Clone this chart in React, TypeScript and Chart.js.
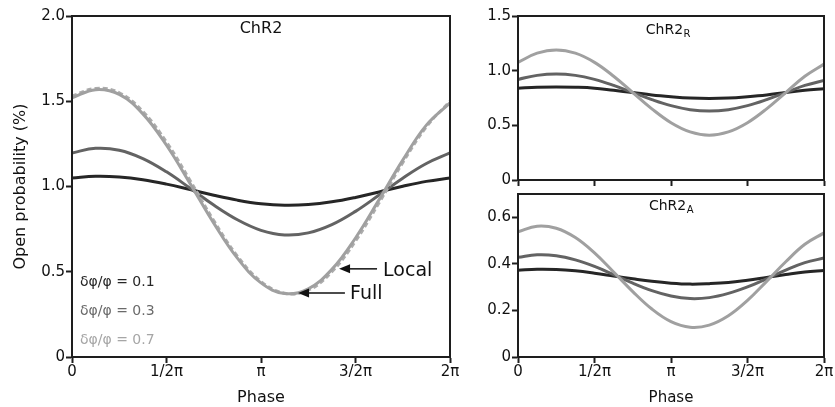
import React, { useEffect, useRef } from "react";
import { Chart, registerables } from "chart.js";
Chart.register(...registerables);

// ---------- data ----------
const PHASE = [0, 0.125, 0.25, 0.375, 0.5, 0.625, 0.75, 0.875, 1, 1.125, 1.25, 1.375, 1.5, 1.625, 1.75, 1.875, 2];
const PHASE_LABELS = ["0", "1/2π", "π", "3/2π", "2π"];
const LEGEND_LABELS = ["δφ/φ = 0.1", "δφ/φ = 0.3", "δφ/φ = 0.7"];

const CHR2_D01 = [1.05, 1.06, 1.056, 1.04, 1.014, 0.982, 0.949, 0.92, 0.899, 0.89, 0.894, 0.91, 0.936, 0.968, 1.001, 1.03, 1.05];
const CHR2_D03 = [1.197, 1.224, 1.213, 1.164, 1.086, 0.99, 0.891, 0.805, 0.743, 0.716, 0.728, 0.776, 0.854, 0.95, 1.049, 1.135, 1.197];
const CHR2_D07 = [1.52, 1.568, 1.54, 1.426, 1.242, 1.017, 0.785, 0.58, 0.435, 0.372, 0.4, 0.514, 0.698, 0.923, 1.155, 1.36, 1.49];
const CHR2_D07_LOCAL = [1.53, 1.575, 1.55, 1.44, 1.26, 1.035, 0.8, 0.592, 0.443, 0.374, 0.392, 0.5, 0.68, 0.905, 1.14, 1.35, 1.5];

const CHR2R_D01 = [0.84, 0.848, 0.85, 0.848, 0.84, 0.82, 0.8, 0.778, 0.762, 0.75, 0.746, 0.75, 0.762, 0.778, 0.8, 0.82, 0.835];
const CHR2R_D03 = [0.92, 0.957, 0.97, 0.957, 0.92, 0.865, 0.8, 0.735, 0.68, 0.643, 0.63, 0.643, 0.68, 0.735, 0.8, 0.865, 0.91];
const CHR2R_D07 = [1.076, 1.16, 1.19, 1.16, 1.076, 0.949, 0.8, 0.651, 0.524, 0.44, 0.41, 0.44, 0.524, 0.651, 0.8, 0.949, 1.06];

const CHR2A_D01 = [0.373, 0.377, 0.376, 0.37, 0.36, 0.348, 0.336, 0.325, 0.317, 0.313, 0.315, 0.32, 0.33, 0.342, 0.354, 0.365, 0.372];
const CHR2A_D03 = [0.428, 0.439, 0.435, 0.417, 0.389, 0.354, 0.317, 0.285, 0.262, 0.251, 0.255, 0.273, 0.301, 0.336, 0.373, 0.405, 0.425];
const CHR2A_D07 = [0.538, 0.562, 0.553, 0.513, 0.447, 0.365, 0.281, 0.206, 0.152, 0.128, 0.137, 0.177, 0.243, 0.325, 0.409, 0.484, 0.533];

// ---------- styles ----------
const FONT = "'DejaVu Sans', 'Liberation Sans', Arial, sans-serif";
const AXIS = "#1e1e1e";
const C_DARK = "#262626";
const C_MID = "#636363";
const C_LIGHT = "#a0a0a0";
const C_LOCAL = "#acacac";
const T_DARK = "#262626";
const T_MID = "#6a6a6a";
const T_LIGHT = "#a6a6a6";

type Series = { values: number[]; color: string; dash?: number[] };

const framePlugin = {
  id: "frame",
  afterDraw(chart: any) {
    const { ctx, chartArea } = chart;
    ctx.save();
    ctx.strokeStyle = AXIS;
    ctx.lineWidth = 2;
    ctx.strokeRect(chartArea.left, chartArea.top, chartArea.right - chartArea.left, chartArea.bottom - chartArea.top);
    ctx.restore();
  },
};

function drawLabel(ctx: any, x: number, y: number, main: string, sub: string, size: number) {
  ctx.save();
  ctx.fillStyle = "#111";
  ctx.textBaseline = "middle";
  ctx.font = `${size}px ${FONT}`;
  const w1 = ctx.measureText(main).width;
  ctx.font = `${Math.round(size * 0.7)}px ${FONT}`;
  const w2 = sub ? ctx.measureText(sub).width : 0;
  const start = x - (w1 + w2) / 2;
  ctx.textAlign = "left";
  ctx.font = `${size}px ${FONT}`;
  ctx.fillText(main, start, y);
  if (sub) {
    ctx.font = `${Math.round(size * 0.7)}px ${FONT}`;
    ctx.fillText(sub, start + w1 + 0.5, y + size * 0.3);
  }
  ctx.restore();
}

function arrow(ctx: any, x0: number, x1: number, y: number) {
  ctx.save();
  ctx.strokeStyle = "#111";
  ctx.fillStyle = "#111";
  ctx.lineWidth = 1.5;
  ctx.beginPath();
  ctx.moveTo(x0, y);
  ctx.lineTo(x1 + 8, y);
  ctx.stroke();
  ctx.beginPath();
  ctx.moveTo(x1, y);
  ctx.lineTo(x1 + 11, y - 4.5);
  ctx.lineTo(x1 + 11, y + 4.5);
  ctx.closePath();
  ctx.fill();
  ctx.restore();
}

const mainAnnot = {
  id: "mainAnnot",
  afterDraw(chart: any) {
    const { ctx } = chart;
    const xs = chart.scales.x;
    const ys = chart.scales.y;
    const px = (v: number) => xs.getPixelForValue(v);
    const py = (v: number) => ys.getPixelForValue(v);
    drawLabel(ctx, px(1), py(1.922), "ChR2", "", 16);
    const colors = [T_DARK, T_MID, T_LIGHT];
    const ly = [0.435, 0.265, 0.1];
    ctx.save();
    ctx.font = `14px ${FONT}`;
    ctx.textAlign = "left";
    ctx.textBaseline = "middle";
    LEGEND_LABELS.forEach((t, i) => {
      ctx.fillStyle = colors[i];
      ctx.fillText(t, px(0.042), py(ly[i]));
    });
    ctx.restore();
    arrow(ctx, px(1.614), px(1.413), py(0.517));
    arrow(ctx, px(1.444), px(1.196), py(0.376));
    ctx.save();
    ctx.font = `19px ${FONT}`;
    ctx.fillStyle = "#111";
    ctx.textAlign = "left";
    ctx.textBaseline = "middle";
    ctx.fillText("Local", px(1.646), py(0.505));
    ctx.fillText("Full", px(1.471), py(0.367));
    ctx.restore();
  },
};

function makeLabelPlugin(main: string, sub: string, xv: number, yv: number) {
  return {
    id: "lbl" + sub,
    afterDraw(chart: any) {
      const xs = chart.scales.x;
      const ys = chart.scales.y;
      drawLabel(chart.ctx, xs.getPixelForValue(xv), ys.getPixelForValue(yv), main, sub, 14);
    },
  };
}

function makeConfig(o: {
  series: Series[];
  yMax: number;
  yStep: number;
  padding: any;
  yWidth: number;
  xHeight: number;
  showXLabels: boolean;
  yTitle?: string;
  xTitle?: string;
  xTitleSize: number;
  tickSize: number;
  yTitlePad?: number;
  xTitlePad?: number;
  extra: any[];
}) {
  return {
    type: "line",
    data: {
      datasets: o.series.map((s) => ({
        data: PHASE.map((x, i) => ({ x, y: s.values[i] })),
        borderColor: s.color,
        borderWidth: 3,
        borderDash: s.dash || [],
        pointRadius: 0,
        tension: 0.4,
        fill: false,
      })),
    },
    options: {
      animation: false,
      responsive: false,
      maintainAspectRatio: false,
      layout: { padding: o.padding },
      plugins: { legend: { display: false }, tooltip: { enabled: false } },
      scales: {
        x: {
          type: "linear",
          min: 0,
          max: 2,
          afterFit: (s: any) => {
            s.height = o.xHeight;
            s.paddingLeft = 0;
            s.paddingRight = 0;
          },
          ticks: {
            stepSize: 0.5,
            autoSkip: false,
            maxRotation: 0,
            padding: 0,
            color: "#111",
            font: { family: FONT, size: o.tickSize },
            callback: (v: number) => (o.showXLabels ? PHASE_LABELS[Math.round(v * 2)] : ""),
          },
          grid: { drawOnChartArea: false, drawTicks: true, tickLength: 6, tickWidth: 2, tickColor: AXIS },
          border: { color: AXIS, width: 2 },
          title: o.xTitle
            ? { display: true, text: o.xTitle, color: "#111", font: { family: FONT, size: o.xTitleSize }, padding: { top: o.xTitlePad || 0, bottom: 0 } }
            : { display: false },
        },
        y: {
          type: "linear",
          min: 0,
          max: o.yMax,
          afterFit: (s: any) => {
            s.width = o.yWidth;
            s.paddingTop = 0;
            s.paddingBottom = 0;
          },
          ticks: {
            stepSize: o.yStep,
            includeBounds: false,
            padding: 1,
            color: "#111",
            font: { family: FONT, size: o.tickSize },
            callback: (v: number) => (Math.abs(v) < 1e-9 ? "0" : Number(v).toFixed(1)),
          },
          grid: { drawOnChartArea: false, drawTicks: true, tickLength: 6, tickWidth: 2, tickColor: AXIS },
          border: { color: AXIS, width: 2 },
          title: o.yTitle
            ? { display: true, text: o.yTitle, color: "#111", font: { family: FONT, size: 16 }, padding: { top: o.yTitlePad || 0, bottom: 0 } }
            : { display: false },
        },
      },
    },
    plugins: [framePlugin, ...o.extra],
  };
}

function ChartBox(props: { left: number; top: number; width: number; height: number; config: any }) {
  const ref = useRef<HTMLCanvasElement | null>(null);
  useEffect(() => {
    if (!ref.current) return;
    const chart = new Chart(ref.current, props.config);
    return () => chart.destroy();
  }, []);
  return (
    <canvas
      ref={ref}
      width={props.width}
      height={props.height}
      style={{ position: "absolute", left: props.left, top: props.top, width: props.width, height: props.height, display: "block" }}
    />
  );
}

export default function App() {
  useEffect(() => {
    document.body.style.margin = "0";
    document.body.style.background = "#fff";
  }, []);

  const mainCfg = makeConfig({
    series: [
      { values: CHR2_D07, color: C_LIGHT },
      { values: CHR2_D07_LOCAL, color: C_LOCAL, dash: [5, 3] },
      { values: CHR2_D03, color: C_MID },
      { values: CHR2_D01, color: C_DARK },
    ],
    yMax: 2,
    yStep: 0.5,
    padding: { top: 16, right: 20, left: 0, bottom: 0 },
    yWidth: 72,
    xHeight: 50,
    showXLabels: true,
    yTitle: "Open probability (%)",
    xTitle: "Phase",
    xTitleSize: 16,
    tickSize: 15,
    yTitlePad: 11,
    xTitlePad: 1,
    extra: [mainAnnot],
  });

  const rCfg = makeConfig({
    series: [
      { values: CHR2R_D07, color: C_LIGHT },
      { values: CHR2R_D03, color: C_MID },
      { values: CHR2R_D01, color: C_DARK },
    ],
    yMax: 1.5,
    yStep: 0.5,
    padding: { top: 16, right: 11, left: 0, bottom: 0 },
    yWidth: 48,
    xHeight: 10,
    showXLabels: false,
    xTitleSize: 15,
    tickSize: 15,
    extra: [makeLabelPlugin("ChR2", "R", 0.98, 1.37)],
  });

  const aCfg = makeConfig({
    series: [
      { values: CHR2A_D07, color: C_LIGHT },
      { values: CHR2A_D03, color: C_MID },
      { values: CHR2A_D01, color: C_DARK },
    ],
    yMax: 0.7,
    yStep: 0.2,
    padding: { top: 4, right: 11, left: 0, bottom: 0 },
    yWidth: 48,
    xHeight: 50,
    showXLabels: true,
    xTitle: "Phase",
    xTitleSize: 15,
    tickSize: 15,
    xTitlePad: 1,
    extra: [makeLabelPlugin("ChR2", "A", 1.0, 0.646)],
  });

  return (
    <div style={{ position: "relative", width: 835, height: 407, background: "#fff", overflow: "hidden" }}>
      <ChartBox left={0} top={0} width={470} height={407} config={mainCfg} />
      <ChartBox left={470} top={0} width={365} height={190} config={rCfg} />
      <ChartBox left={470} top={190} width={365} height={217} config={aCfg} />
    </div>
  );
}
